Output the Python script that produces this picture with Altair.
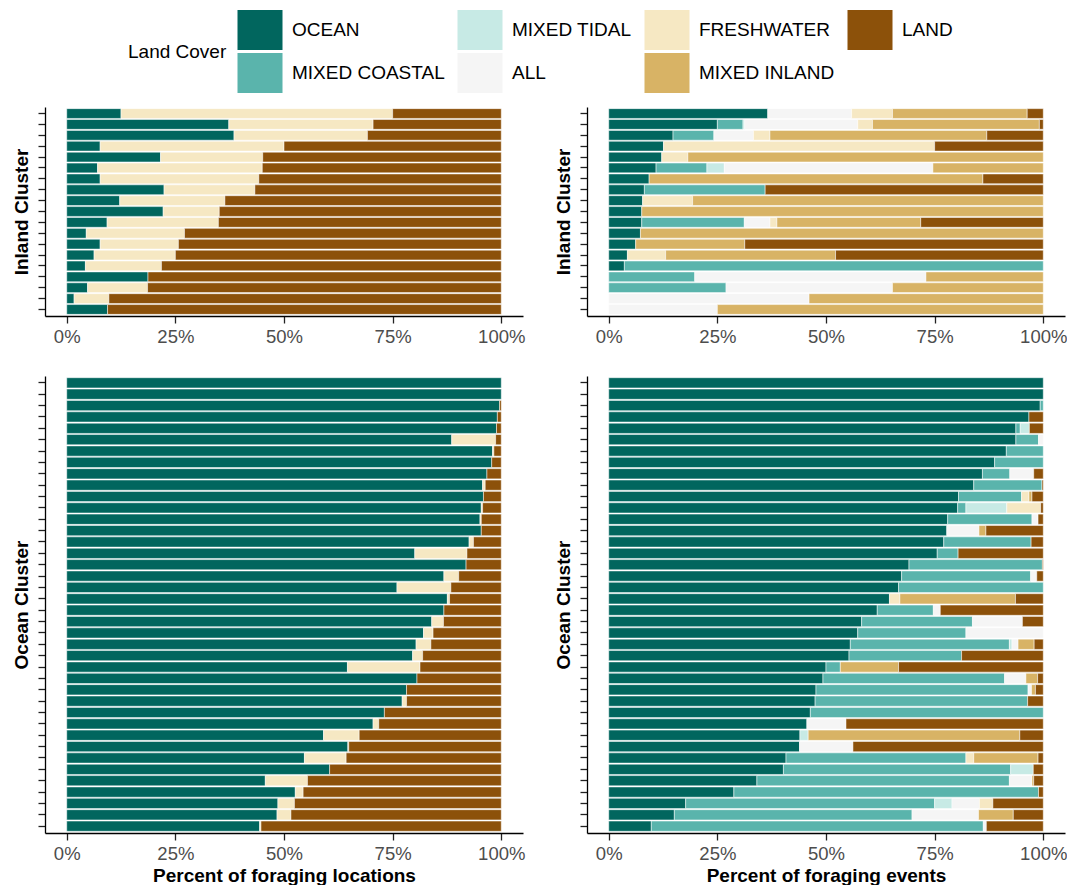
import altair as alt
import pandas as pd

# Land-cover classes in stacking order (left to right within each bar)
COVERS = ["OCEAN", "MIXED COASTAL", "MIXED TIDAL", "ALL", "FRESHWATER", "MIXED INLAND", "LAND"]
# Legend is laid out row by row in four columns
LEGEND_ORDER = ["OCEAN", "MIXED TIDAL", "FRESHWATER", "LAND", "MIXED COASTAL", "ALL", "MIXED INLAND"]
LEGEND_COLORS = ["#01665E", "#C7EAE5", "#F6E8C3", "#8C510A", "#5AB4AC", "#F5F5F5", "#D8B365"]

# ---- Percent of foraging locations, inland cluster (one entry per bird) ----
loc_inland_ocean = [12.5, 37.3, 38.5, 7.7, 21.6, 7.1, 7.7, 22.4, 12.2, 22.2, 9.3, 4.5, 7.7, 6.3, 4.3, 18.7, 4.8, 1.7, 9.4]
loc_inland_fresh = [62.5, 33.2, 30.7, 42.3, 23.5, 37.9, 36.5, 20.9, 24.2, 12.9, 25.6, 22.6, 18.0, 18.7, 17.5, 0.0, 13.8, 8.0, 0.0]
loc_inland_land = [25.0, 29.5, 30.8, 50.0, 54.9, 55.0, 55.8, 56.7, 63.6, 64.9, 65.1, 72.9, 74.3, 75.0, 78.2, 81.3, 81.4, 90.3, 90.6]

# ---- Percent of foraging locations, ocean cluster ----
loc_ocean_ocean = [100.0, 100.0, 99.6, 99.1, 98.9, 88.6, 98.0, 97.8, 96.7, 95.7,
                   95.9, 95.4, 95.1, 95.4, 92.6, 80.1, 91.9, 86.8, 76.0, 87.6,
                   86.8, 84.0, 82.1, 80.4, 79.6, 64.6, 80.6, 78.2, 77.2, 73.1,
                   70.5, 59.1, 64.7, 54.7, 60.5, 45.7, 52.6, 48.6, 48.4, 44.4]
loc_ocean_fresh = [0.0, 0.0, 0.0, 0.0, 0.0, 10.1, 0.3, 0.0, 0.0, 0.6,
                   0.0, 0.3, 0.3, 0.0, 1.0, 12.0, 0.0, 3.4, 12.4, 0.5,
                   0.0, 2.7, 2.2, 3.4, 2.3, 16.7, 0.0, 0.0, 1.0, 0.0,
                   1.3, 8.2, 0.2, 9.6, 0.0, 9.7, 1.8, 3.8, 3.2, 0.3]
loc_ocean_land = [0.0, 0.0, 0.4, 0.9, 1.1, 1.3, 1.7, 2.2, 3.3, 3.7,
                  4.1, 4.3, 4.6, 4.6, 6.4, 7.9, 8.1, 9.8, 11.6, 11.9,
                  13.2, 13.3, 15.7, 16.2, 18.1, 18.7, 19.4, 21.8, 21.8, 26.9,
                  28.2, 32.7, 35.1, 35.7, 39.5, 44.6, 45.6, 47.6, 48.4, 55.3]

# ---- Percent of foraging events, inland cluster ----
evt_inland_ocean = [36.6, 25.0, 14.8, 12.6, 12.2, 10.9, 9.3, 8.2, 7.8, 7.6, 7.6, 7.3, 6.2, 4.3, 3.6, 0.0, 0.0, 0.0, 0.0]
evt_inland_coastal = [0.0, 5.9, 9.4, 0.0, 0.0, 11.7, 0.0, 27.8, 0.0, 0.0, 23.6, 0.0, 0.0, 0.0, 96.4, 19.8, 27.0, 0.0, 0.0]
evt_inland_tidal = [0.0, 0.4, 0.0, 0.0, 0.0, 4.0, 0.0, 0.0, 0.0, 0.0, 0.0, 0.0, 0.0, 0.0, 0.0, 0.0, 0.0, 0.0, 0.0]
evt_inland_all = [19.3, 26.0, 9.1, 0.0, 0.0, 48.0, 0.0, 0.0, 0.0, 0.0, 5.9, 0.0, 0.0, 0.0, 0.0, 53.2, 38.3, 46.1, 25.0]
evt_inland_fresh = [9.4, 3.4, 3.8, 62.4, 6.0, 0.0, 0.0, 0.0, 11.5, 0.0, 1.6, 0.0, 0.0, 8.8, 0.0, 0.0, 0.0, 0.0, 0.0]
evt_inland_mixinland = [31.0, 38.4, 49.9, 0.0, 81.8, 25.4, 76.8, 0.0, 80.7, 92.4, 33.1, 92.7, 25.1, 39.1, 0.0, 27.0, 34.7, 53.9, 75.0]
evt_inland_land = [3.7, 0.9, 13.0, 25.0, 0.0, 0.0, 13.9, 64.0, 0.0, 0.0, 28.2, 0.0, 68.7, 47.8, 0.0, 0.0, 0.0, 0.0, 0.0]

# ---- Percent of foraging events, ocean cluster ----
evt_ocean_ocean = [100.0, 100.0, 99.3, 96.7, 93.7, 93.7, 91.5, 88.8, 86.0, 84.0,
                   80.5, 80.3, 78.0, 77.8, 77.1, 75.6, 69.1, 67.4, 66.7, 64.6,
                   61.8, 58.2, 57.3, 55.6, 55.3, 50.0, 49.3, 47.7, 47.5, 46.4,
                   45.6, 44.0, 43.9, 40.8, 40.2, 34.1, 28.8, 17.7, 15.1, 9.8]
evt_ocean_coastal = [0.0, 0.0, 0.7, 0.0, 1.0, 5.2, 8.5, 11.2, 6.3, 15.7,
                     14.5, 1.9, 19.4, 0.0, 20.1, 4.8, 30.7, 29.7, 33.3, 0.0,
                     12.9, 25.5, 24.9, 36.6, 25.9, 3.3, 41.8, 48.8, 48.9, 53.6,
                     0.0, 0.0, 0.0, 41.4, 52.3, 58.1, 70.1, 57.3, 54.7, 76.4]
evt_ocean_tidal = [0.0, 0.0, 0.0, 0.0, 2.1, 0.0, 0.0, 0.0, 0.0, 0.0,
                   0.0, 9.4, 0.0, 0.0, 0.0, 0.0, 0.0, 0.0, 0.0, 0.0,
                   0.0, 0.0, 0.0, 0.6, 0.0, 0.0, 0.0, 0.0, 0.0, 0.0,
                   0.0, 1.9, 0.0, 0.0, 5.2, 0.0, 0.0, 4.0, 0.0, 0.0]
evt_ocean_all = [0.0, 0.0, 0.0, 0.0, 0.0, 1.1, 0.0, 0.0, 5.5, 0.0,
                 0.0, 0.0, 1.4, 7.4, 0.0, 0.0, 0.0, 1.4, 0.0, 0.0,
                 1.6, 11.5, 17.8, 1.4, 0.0, 0.0, 4.9, 0.8, 0.0, 0.0,
                 9.0, 0.0, 12.3, 0.0, 0.0, 5.2, 0.0, 6.3, 15.3, 0.7]
evt_ocean_fresh = [0.0, 0.0, 0.0, 0.0, 0.0, 0.0, 0.0, 0.0, 0.0, 0.0,
                   1.7, 7.8, 0.0, 0.0, 0.0, 0.0, 0.0, 0.0, 0.0, 2.4,
                   0.0, 0.0, 0.0, 0.0, 0.0, 0.0, 0.0, 0.0, 0.0, 0.0,
                   0.0, 0.0, 0.0, 1.8, 0.0, 0.0, 0.0, 3.1, 0.0, 0.0]
evt_ocean_mixinland = [0.0, 0.0, 0.0, 0.0, 0.0, 0.0, 0.0, 0.0, 0.0, 0.0,
                       0.7, 0.0, 0.0, 1.6, 0.0, 0.0, 0.0, 0.0, 0.0, 26.6,
                       0.0, 0.0, 0.0, 3.7, 0.0, 13.4, 2.7, 0.9, 0.0, 0.0,
                       0.0, 48.7, 0.0, 14.8, 0.0, 0.4, 0.0, 0.0, 8.0, 0.0]
evt_ocean_land = [0.0, 0.0, 0.0, 3.3, 3.2, 0.0, 0.0, 0.0, 2.2, 0.3,
                  2.6, 0.6, 1.2, 13.2, 2.8, 19.6, 0.2, 1.5, 0.0, 6.4,
                  23.7, 4.8, 0.0, 2.1, 18.8, 33.3, 1.3, 1.8, 3.6, 0.0,
                  45.4, 5.4, 43.8, 1.2, 2.3, 2.2, 1.1, 11.6, 6.9, 13.1]


def long_table(columns):
    """Turn {cover: [pct per bird]} into a long table for stacking."""
    rows = []
    for cover, values in columns.items():
        rank = COVERS.index(cover)
        for i, v in enumerate(values):
            if v > 0:
                rows.append({"bird": i + 1, "cover": cover, "pct": v, "rank": rank})
    return pd.DataFrame(rows)


loc_inland = long_table({"OCEAN": loc_inland_ocean, "FRESHWATER": loc_inland_fresh, "LAND": loc_inland_land})
loc_ocean = long_table({"OCEAN": loc_ocean_ocean, "FRESHWATER": loc_ocean_fresh, "LAND": loc_ocean_land})
evt_inland = long_table({
    "OCEAN": evt_inland_ocean, "MIXED COASTAL": evt_inland_coastal, "MIXED TIDAL": evt_inland_tidal,
    "ALL": evt_inland_all, "FRESHWATER": evt_inland_fresh, "MIXED INLAND": evt_inland_mixinland,
    "LAND": evt_inland_land,
})
evt_ocean = long_table({
    "OCEAN": evt_ocean_ocean, "MIXED COASTAL": evt_ocean_coastal, "MIXED TIDAL": evt_ocean_tidal,
    "ALL": evt_ocean_all, "FRESHWATER": evt_ocean_fresh, "MIXED INLAND": evt_ocean_mixinland,
    "LAND": evt_ocean_land,
})

PANEL_W = 478
TOP_H = 209
BOTTOM_H = 457

legend = alt.Legend(
    title="Land Cover",
    orient="none",
    legendX=83,
    legendY=-97,
    direction="horizontal",
    columns=4,
    titleOrient="left",
    titlePadding=13,
    titleFontSize=19,
    titleFontWeight="normal",
    titleColor="black",
    labelFontSize=19,
    labelColor="black",
    labelOffset=12,
    symbolType="M-1.125,-1H1.125V1H-1.125Z",
    symbolSize=1600,
    symbolStrokeWidth=0,
    symbolOpacity=1,
    columnPadding=12,
    rowPadding=3,
    padding=0,
    offset=0,
)


def panel(df, cluster, x_title, height):
    return alt.Chart(df).mark_bar(stroke="white", strokeWidth=0.5).encode(
        x=alt.X(
            "pct:Q",
            stack="zero",
            scale=alt.Scale(domain=[-5, 105], nice=False, zero=False),
            axis=alt.Axis(values=[0, 25, 50, 75, 100], labelExpr="datum.value + '%'", title=x_title),
        ),
        y=alt.Y(
            "bird:O",
            scale=alt.Scale(paddingInner=0.1, paddingOuter=0.15),
            axis=alt.Axis(labels=False, title=cluster, titlePadding=6),
        ),
        color=alt.Color(
            "cover:N",
            scale=alt.Scale(domain=LEGEND_ORDER, range=LEGEND_COLORS),
            legend=legend,
        ),
        order=alt.Order("rank:Q", sort="ascending"),
    ).properties(width=PANEL_W, height=height)


top_row = alt.hconcat(
    panel(loc_inland, "Inland Cluster", "", TOP_H),
    panel(evt_inland, "Inland Cluster", "", TOP_H),
    spacing=29,
)
bottom_row = alt.hconcat(
    panel(loc_ocean, "Ocean Cluster", "Percent of foraging locations", BOTTOM_H),
    panel(evt_ocean, "Ocean Cluster", "Percent of foraging events", BOTTOM_H),
    spacing=29,
)

chart = (
    alt.vconcat(top_row, bottom_row, spacing=30)
    .properties(padding={"left": 12, "top": 10, "right": 0, "bottom": 0}, background="white")
    .configure(font="Liberation Sans")
    .configure_view(strokeWidth=0)
    .configure_axis(
        grid=False,
        domainColor="black",
        domainWidth=1.3,
        tickColor="#222222",
        tickWidth=1.3,
        tickSize=7,
        labelColor="#4D4D4D",
        labelFontSize=18.5,
        labelPadding=4,
        titleColor="black",
        titleFontSize=19,
        titleFontWeight="bold",
        titlePadding=4,
    )
)

chart.save("out.html", embed_options={"renderer": "svg", "actions": False})
